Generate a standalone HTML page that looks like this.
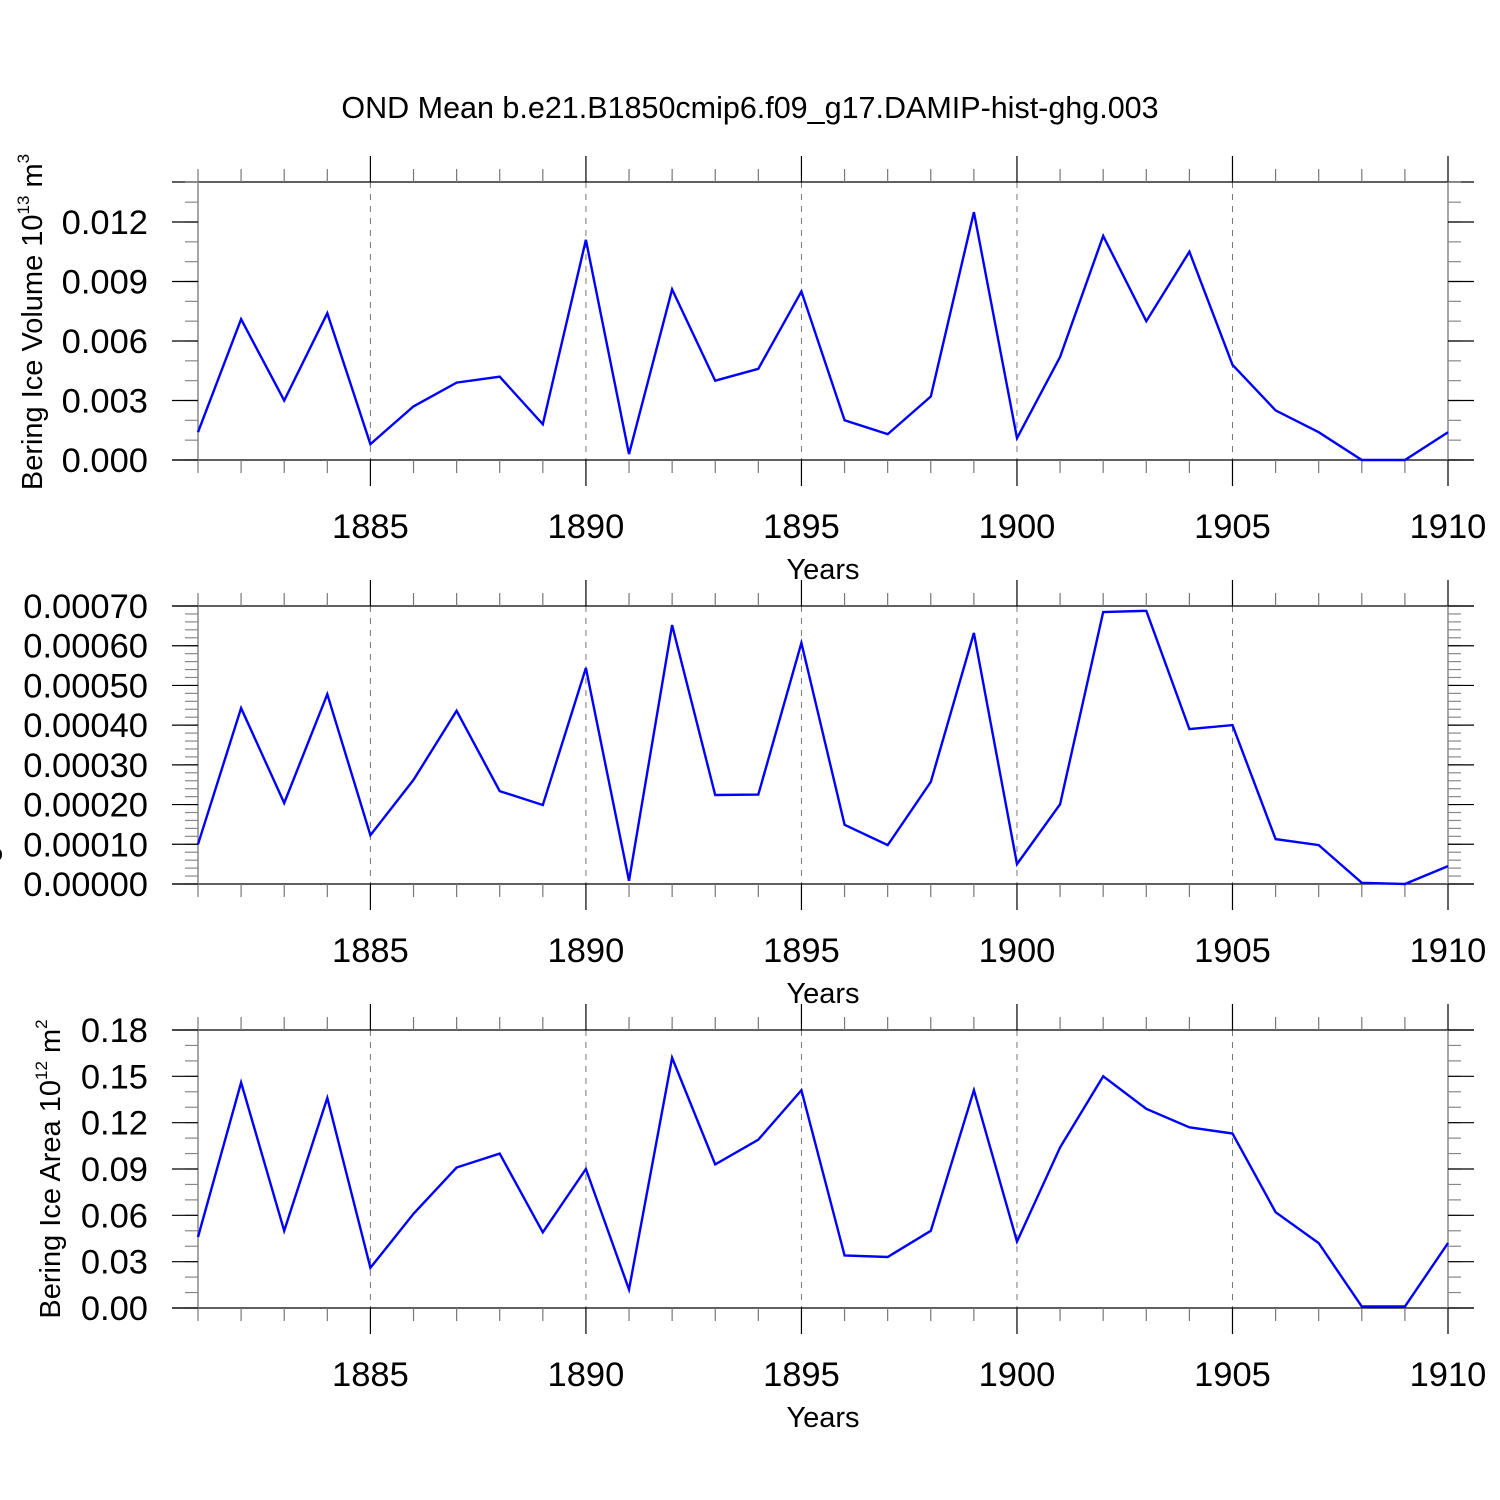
<!DOCTYPE html>
<html><head><meta charset="utf-8"><style>
html,body{margin:0;padding:0;background:#fff;}
svg{display:block;font-family:"Liberation Sans",sans-serif;}
</style></head><body>
<svg id="chart" width="1500" height="1500" viewBox="0 0 1500 1500" xmlns="http://www.w3.org/2000/svg">
<text x="750" y="118" font-size="30.5" text-anchor="middle">OND Mean b.e21.B1850cmip6.f09_g17.DAMIP-hist-ghg.003</text>
</svg>
<script>
const years = [1881,1882,1883,1884,1885,1886,1887,1888,1889,1890,1891,1892,1893,1894,1895,1896,1897,1898,1899,1900,1901,1902,1903,1904,1905,1906,1907,1908,1909,1910];
const iceVolume = [0.0014,0.0071,0.0030,0.0074,0.0008,0.0027,0.0039,0.0042,0.0018,0.0111,0.0003,0.0086,0.0040,0.0046,0.0085,0.0020,0.0013,0.0032,0.0125,0.0011,0.0052,0.0113,0.0070,0.0105,0.0048,0.0025,0.0014,0.0000,0.0000,0.0014];
const snowVolume = [0.00010,0.000443,0.000204,0.000478,0.000123,0.000262,0.000436,0.000234,0.000199,0.000544,0.000008,0.000652,0.000224,0.000225,0.000607,0.000149,0.000098,0.000257,0.000632,0.000050,0.000201,0.000685,0.000688,0.000390,0.000400,0.000113,0.000098,0.000003,0.000000,0.000045];
const iceArea = [0.046,0.146,0.050,0.136,0.026,0.061,0.091,0.100,0.049,0.090,0.012,0.162,0.093,0.109,0.141,0.034,0.033,0.050,0.141,0.043,0.104,0.150,0.129,0.117,0.113,0.062,0.042,0.001,0.001,0.042];
const xTickYears = [1885,1890,1895,1900,1905,1910];
const ticks1 = ["0.000","0.003","0.006","0.009","0.012"];
const ticks2 = ["0.00000","0.00010","0.00020","0.00030","0.00040","0.00050","0.00060","0.00070"];
const ticks3 = ["0.00","0.03","0.06","0.09","0.12","0.15","0.18"];

const NS="http://www.w3.org/2000/svg";
const svg=document.getElementById('chart');
function el(tag,attrs,parent){const e=document.createElementNS(NS,tag);for(const k in attrs)e.setAttribute(k,attrs[k]);(parent||svg).appendChild(e);return e;}
const X0=198,X1=1448,XR=1474;
const xs=y=>X0+(y-1881)*(X1-X0)/29;

function panel(cfg){
  const g=el('g',{});
  
  
  const top=cfg.top,bot=cfg.top+278;
  const ys=v=>bot-(v-cfg.min)/(cfg.max-cfg.min)*278;
  xTickYears.forEach(yr=>{ if(yr<1910){const l=el('line',{x1:xs(yr),x2:xs(yr),y1:top,y2:bot,stroke:'#777','stroke-width':1,'stroke-dasharray':'6,6'},g);
    
    }});
  el('line',{x1:172,x2:XR,y1:top,y2:top,stroke:'#000','stroke-width':1.3},g);
  el('line',{x1:172,x2:XR,y1:bot,y2:bot,stroke:'#000','stroke-width':1.3},g);
  el('line',{x1:X0,x2:X0,y1:top,y2:bot,stroke:'#888','stroke-width':1.5},g);
  el('line',{x1:X1,x2:X1,y1:top,y2:bot,stroke:'#888','stroke-width':1.5},g);
  years.forEach(yr=>{const maj=xTickYears.includes(yr);const x=xs(yr);
    el('line',{x1:x,x2:x,y1:bot,y2:bot+(maj?26:13),stroke:maj?'#000':'#777','stroke-width':1.2},g);
    el('line',{x1:x,x2:x,y1:top,y2:top-(maj?26:13),stroke:maj?'#000':'#777','stroke-width':1.2},g);
  });
  xTickYears.forEach(yr=>{const t=el('text',{x:xs(yr),y:bot+78,'font-size':34.5,'text-anchor':'middle'},g);t.textContent=yr;
    
    });
  const xt=el('text',{x:823,y:bot+119,'font-size':29,'text-anchor':'middle'},g);xt.textContent='Years';
  
  
  for(let v=cfg.min;v<=cfg.max+cfg.minor*0.01;v+=cfg.minor){const y=ys(v);
    el('line',{x1:185,x2:X0,y1:y,y2:y,stroke:'#888','stroke-width':1.2},g);
    el('line',{x1:X1,x2:1461,y1:y,y2:y,stroke:'#888','stroke-width':1.2},g);}
  cfg.ticks.forEach(s=>{const v=parseFloat(s);const y=ys(v);
    el('line',{x1:172,x2:X0,y1:y,y2:y,stroke:'#000','stroke-width':1.2},g);
    el('line',{x1:X1,x2:XR,y1:y,y2:y,stroke:'#000','stroke-width':1.2},g);
    const t=el('text',{x:148,y:y+12,'font-size':34.5,'text-anchor':'end'},g);t.textContent=s;
    
    });
  const yt=el('text',{transform:`translate(${cfg.tx},${cfg.ty}) rotate(-90)`,'font-size':29,'text-anchor':'middle'},g);
  
  
  yt.innerHTML=cfg.label;
  const pts=cfg.data.map((v,i)=>xs(years[i]).toFixed(1)+','+ys(v).toFixed(1)).join(' ');
  const p=el('polyline',{points:pts,fill:'none',stroke:'#0000ff','stroke-width':2.4,'stroke-linejoin':'miter'},g);
  
  
}
panel({name:'ice-volume-panel',top:182,ty:322,min:0,max:0.003*278/119*2,minor:0.001,ticks:ticks1,data:iceVolume,tx:42,
  label:'Bering Ice Volume 10<tspan font-size="17" dy="-13">13</tspan><tspan dy="13"> m</tspan><tspan font-size="17" dy="-13">3</tspan>'});
panel({name:'snow-volume-panel',top:606,ty:745,min:0,max:0.0007,minor:0.00002,ticks:ticks2,data:snowVolume,tx:-4,
  label:'Bering Snow Volume 10<tspan font-size="17" dy="-13">13</tspan><tspan dy="13"> m</tspan><tspan font-size="17" dy="-13">3</tspan>'});
panel({name:'ice-area-panel',top:1030,ty:1169,min:0,max:0.18,minor:0.01,ticks:ticks3,data:iceArea,tx:60,
  label:'Bering Ice Area 10<tspan font-size="17" dy="-13">12</tspan><tspan dy="13"> m</tspan><tspan font-size="17" dy="-13">2</tspan>'});
</script>
</body></html>
